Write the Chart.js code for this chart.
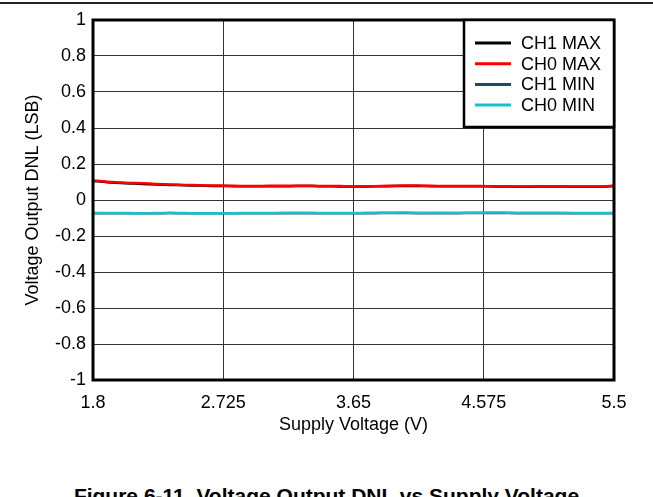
<!DOCTYPE html>
<html><head><meta charset="utf-8">
<script src="https://cdn.jsdelivr.net/npm/chart.js@4/dist/chart.umd.min.js"></script>
<style>
html,body{margin:0;padding:0;background:#fff;overflow:hidden;width:653px;height:497px;}
#wrap{position:absolute;left:0;top:0;width:653px;height:440px;}
#topline{position:absolute;left:0;top:2px;width:653px;height:2px;background:#222;}
#title{position:absolute;left:0;width:653px;top:484px;text-align:center;font:bold 21px "Liberation Sans",Arial,sans-serif;color:#000;white-space:nowrap;}
</style></head>
<body>
<div id="topline"></div>
<div id="wrap"><canvas id="c" width="653" height="440"></canvas></div>
<div id="title">Figure 6-11. Voltage Output DNL vs Supply Voltage</div>
<script>
const voltages = [1.8,1.9,2.0,2.1,2.2,2.3,2.4,2.5,2.6,2.7,2.8,2.9,3.0,3.1,3.2,3.3,3.4,3.5,3.6,3.7,3.8,3.9,4.0,4.1,4.2,4.3,4.4,4.5,4.6,4.7,4.8,4.9,5.0,5.1,5.2,5.3,5.4,5.5];
const ch1Max = [0.106,0.099,0.094,0.091,0.088,0.085,0.083,0.081,0.079,0.078,0.077,0.077,0.076,0.077,0.077,0.078,0.077,0.076,0.075,0.075,0.076,0.077,0.078,0.078,0.077,0.077,0.076,0.076,0.076,0.075,0.074,0.074,0.075,0.075,0.074,0.074,0.074,0.077];
const ch0Max = [0.108,0.102,0.097,0.094,0.091,0.088,0.085,0.083,0.081,0.080,0.079,0.078,0.078,0.079,0.079,0.079,0.078,0.078,0.077,0.076,0.077,0.079,0.080,0.080,0.079,0.078,0.078,0.078,0.077,0.076,0.075,0.075,0.076,0.076,0.075,0.075,0.075,0.080];
const ch1Min = [-0.073,-0.073,-0.074,-0.074,-0.074,-0.073,-0.073,-0.074,-0.074,-0.074,-0.074,-0.073,-0.073,-0.073,-0.073,-0.073,-0.073,-0.073,-0.073,-0.073,-0.073,-0.072,-0.072,-0.073,-0.073,-0.073,-0.073,-0.072,-0.072,-0.072,-0.073,-0.073,-0.073,-0.073,-0.073,-0.073,-0.073,-0.073];
const ch0Min = [-0.071,-0.072,-0.072,-0.073,-0.073,-0.072,-0.072,-0.073,-0.073,-0.073,-0.073,-0.072,-0.072,-0.072,-0.071,-0.071,-0.072,-0.072,-0.072,-0.072,-0.071,-0.071,-0.070,-0.071,-0.071,-0.071,-0.071,-0.071,-0.070,-0.070,-0.071,-0.071,-0.071,-0.071,-0.072,-0.072,-0.072,-0.072];
const seriesNames = ["CH1 MAX","CH0 MAX","CH1 MIN","CH0 MIN"];
const seriesColors = ["#000000","#ff0000","#1b4f5f","#17bfd2"];
const xTicks = [1.8,2.725,3.65,4.575,5.5];
const yTickLabels = ["-1","-0.8","-0.6","-0.4","-0.2","0","0.2","0.4","0.6","0.8","1"];

const FONT = "'Liberation Sans', Arial, sans-serif";
const FS = 18;
const series = [ch1Max, ch0Max, ch1Min, ch0Min];
const datasets = series.map((s,i)=>({
  label: seriesNames[i],
  data: s.map((v,j)=>({x:voltages[j], y:v})),
  borderColor: seriesColors[i],
  borderWidth: 2.5,
  pointRadius: 0,
  tension: 0.3,
  order: 4-i
}));

const frameAndLegend = {
  id:'frameAndLegend',
  afterDraw(chart){
    const {ctx, chartArea:a} = chart;
    ctx.save();
    ctx.strokeStyle='#000'; ctx.lineWidth=3;
    ctx.strokeRect(a.left, a.top, a.right-a.left, a.bottom-a.top);
    const bw=150, bh=107;
    const bx=a.right-bw, by=a.top;
    ctx.fillStyle='#fff';
    ctx.fillRect(bx,by,bw,bh);
    ctx.lineWidth=2.5;
    ctx.strokeRect(bx,by,bw,bh);
    ctx.font=FS+"px "+FONT;
    ctx.textBaseline='middle';
    chart.data.datasets.forEach((d,i)=>{
      const y = by+23+i*20.7;
      ctx.strokeStyle=d.borderColor; ctx.lineWidth=3;
      ctx.beginPath(); ctx.moveTo(bx+11,y); ctx.lineTo(bx+47,y); ctx.stroke();
      ctx.fillStyle='#000';
      ctx.fillText(d.label, bx+57, y+1);
    });
    ctx.restore();
  }
};

new Chart(document.getElementById('c'),{
  type:'line',
  data:{datasets},
  options:{
    responsive:false,
    animation:false,
    layout:{padding:{left:0,right:39,top:20,bottom:0}},
    plugins:{legend:{display:false},tooltip:{enabled:false}},
    scales:{
      x:{
        type:'linear', min:1.8, max:5.5,
        afterBuildTicks(scale){ scale.ticks = xTicks.map(v=>({value:v})); },
        afterFit(scale){ scale.height = 60; },
        ticks:{color:'#000',font:{family:FONT,size:FS},maxRotation:0,padding:12,autoSkip:false,
          callback:(v)=>{const i=xTicks.indexOf(v); return i>=0? String(xTicks[i]) : '';}},
        grid:{color:'#333',lineWidth:1,drawTicks:false},
        border:{display:false},
        title:{display:true,text:'Supply Voltage (V)',color:'#000',font:{family:FONT,size:FS},padding:{top:0,bottom:4}}
      },
      y:{
        min:-1, max:1,
        afterFit(scale){ scale.width = 93; },
        ticks:{stepSize:0.2,color:'#000',font:{family:FONT,size:FS},padding:7,
          callback:(v,i)=>yTickLabels[i]},
        grid:{color:'#333',lineWidth:1,drawTicks:false},
        border:{display:false},
        title:{display:true,text:'Voltage Output DNL (LSB)',color:'#000',font:{family:FONT,size:FS},padding:{top:22,bottom:0}}
      }
    }
  },
  plugins:[frameAndLegend]
});
</script>
</body></html>
